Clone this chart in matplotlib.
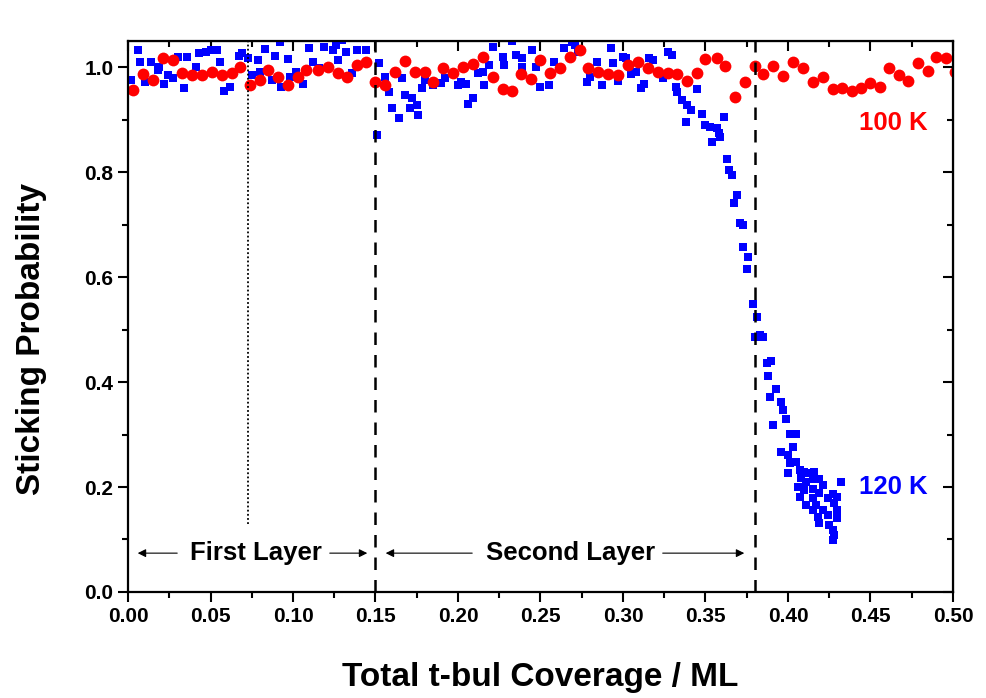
import matplotlib.pyplot as plt
from matplotlib.ticker import MultipleLocator

plt.rcParams['font.family'] = ['Liberation Sans', 'DejaVu Sans']
plt.rcParams['font.weight'] = 'bold'

# 100 K data (red circles)
x100 = [0.003, 0.009, 0.015, 0.021, 0.027, 0.033, 0.039, 0.045, 0.051, 0.057,
        0.063, 0.068, 0.074, 0.080, 0.085, 0.091, 0.097, 0.103, 0.108, 0.115,
        0.121, 0.127, 0.133, 0.139, 0.144, 0.150, 0.156, 0.162, 0.168, 0.174,
        0.180, 0.185, 0.191, 0.197, 0.203, 0.209, 0.215, 0.221, 0.227, 0.233,
        0.238, 0.244, 0.250, 0.256, 0.262, 0.268, 0.274, 0.279, 0.285, 0.291,
        0.297, 0.303, 0.309, 0.315, 0.321, 0.327, 0.333, 0.339, 0.345, 0.350,
        0.357, 0.362, 0.368, 0.374, 0.380, 0.385, 0.391, 0.397, 0.403, 0.409,
        0.415, 0.421, 0.427, 0.433, 0.439, 0.444, 0.450, 0.456, 0.461, 0.467,
        0.473, 0.479, 0.485, 0.490, 0.496, 0.501]
y100 = [0.956, 0.987, 0.975, 1.017, 1.013, 0.989, 0.985, 0.985, 0.990, 0.985,
        0.989, 1.000, 0.966, 0.975, 0.994, 0.981, 0.966, 0.981, 0.994, 0.994,
        1.000, 0.989, 0.981, 1.004, 1.010, 0.971, 0.966, 0.990, 1.011, 0.990,
        0.990, 0.971, 0.998, 0.989, 1.000, 1.006, 1.019, 0.981, 0.958, 0.954,
        0.987, 0.977, 1.013, 0.989, 0.998, 1.019, 1.032, 0.998, 0.990, 0.987,
        0.985, 1.004, 1.010, 0.998, 0.990, 0.989, 0.987, 0.973, 0.989, 1.015,
        1.017, 1.002, 0.943, 0.971, 1.002, 0.987, 1.002, 0.983, 1.010, 0.998,
        0.971, 0.981, 0.958, 0.960, 0.954, 0.960, 0.970, 0.962, 0.998, 0.985,
        0.973, 1.008, 0.992, 1.019, 1.017, 0.990]

# 120 K data (blue squares)
x120 = [0.002, 0.006, 0.007, 0.010, 0.014, 0.018, 0.019, 0.022, 0.024, 0.027,
        0.030, 0.034, 0.036, 0.041, 0.043, 0.047, 0.047, 0.050, 0.054, 0.056,
        0.058, 0.062, 0.067, 0.069, 0.073, 0.075, 0.079, 0.080, 0.083, 0.087,
        0.089, 0.092, 0.093, 0.097, 0.098, 0.102, 0.106, 0.110, 0.112, 0.116,
        0.119, 0.121, 0.124, 0.126, 0.127, 0.130, 0.132, 0.136, 0.139, 0.144,
        0.151, 0.152, 0.156, 0.158, 0.160, 0.164, 0.166, 0.168, 0.171, 0.172,
        0.175, 0.176, 0.178, 0.180, 0.185, 0.190, 0.192, 0.200, 0.202, 0.205,
        0.206, 0.209, 0.212, 0.215, 0.216, 0.219, 0.221, 0.224, 0.227, 0.228,
        0.231, 0.233, 0.235, 0.239, 0.239, 0.242, 0.245, 0.247, 0.250, 0.255,
        0.258, 0.264, 0.269, 0.271, 0.273, 0.278, 0.280, 0.284, 0.287, 0.290,
        0.293, 0.294, 0.297, 0.300, 0.302, 0.305, 0.308, 0.311, 0.313, 0.316,
        0.318, 0.324, 0.327, 0.330, 0.332, 0.333, 0.336, 0.338, 0.339, 0.341,
        0.345, 0.348, 0.350, 0.353, 0.354, 0.357, 0.358, 0.359, 0.361, 0.363,
        0.364, 0.366, 0.367, 0.369, 0.371, 0.373, 0.373, 0.375, 0.376, 0.379,
        0.381, 0.380, 0.383, 0.385, 0.387, 0.388, 0.390, 0.389, 0.393, 0.396,
        0.397, 0.391, 0.399, 0.401, 0.405, 0.403, 0.396, 0.400, 0.405, 0.401,
        0.400, 0.407, 0.410, 0.412, 0.416, 0.408, 0.411, 0.415, 0.419, 0.421,
        0.406, 0.410, 0.415, 0.432, 0.427, 0.419, 0.407, 0.415, 0.424, 0.430,
        0.411, 0.417, 0.428, 0.415, 0.421, 0.430, 0.418, 0.424, 0.430, 0.419,
        0.425, 0.427, 0.428, 0.427]
y120 = [0.975, 1.032, 1.010, 0.971, 1.010, 0.994, 1.000, 0.968, 0.985, 0.979,
        1.019, 0.960, 1.019, 1.000, 1.027, 1.067, 1.029, 1.032, 1.032, 1.010,
        0.954, 0.962, 1.021, 1.027, 1.017, 0.985, 1.013, 0.990, 1.034, 0.975,
        1.021, 1.048, 0.962, 1.015, 0.981, 0.990, 0.968, 1.036, 1.010, 0.998,
        1.038, 1.055, 1.032, 1.042, 1.013, 1.051, 1.029, 0.989, 1.032, 1.032,
        0.870, 1.008, 0.981, 0.952, 0.922, 0.903, 0.979, 0.947, 0.922, 0.941,
        0.928, 0.909, 0.960, 0.975, 0.966, 0.970, 0.979, 0.966, 0.971, 0.968,
        0.930, 0.941, 0.989, 0.990, 0.966, 1.004, 1.038, 1.057, 1.019, 1.004,
        1.055, 1.049, 1.023, 1.000, 1.017, 1.057, 1.032, 1.000, 0.962, 0.966,
        1.010, 1.036, 1.048, 1.042, 1.029, 0.971, 0.981, 1.010, 0.966, 1.057,
        1.036, 1.008, 0.973, 1.019, 1.017, 0.987, 0.990, 0.960, 0.968, 1.017,
        1.013, 0.979, 1.029, 1.023, 0.962, 0.952, 0.937, 0.895, 0.928, 0.918,
        0.958, 0.910, 0.890, 0.886, 0.857, 0.884, 0.874, 0.867, 0.905, 0.825,
        0.804, 0.794, 0.741, 0.756, 0.703, 0.699, 0.657, 0.615, 0.638, 0.549,
        0.524, 0.486, 0.490, 0.486, 0.436, 0.411, 0.440, 0.371, 0.387, 0.362,
        0.347, 0.318, 0.330, 0.301, 0.301, 0.276, 0.267, 0.261, 0.248, 0.246,
        0.227, 0.232, 0.229, 0.227, 0.229, 0.217, 0.210, 0.215, 0.215, 0.204,
        0.200, 0.194, 0.196, 0.210, 0.187, 0.189, 0.181, 0.179, 0.179, 0.181,
        0.166, 0.166, 0.170, 0.156, 0.156, 0.156, 0.143, 0.147, 0.141, 0.131,
        0.128, 0.118, 0.109, 0.099]

fig = plt.figure(figsize=(9.87, 6.98), dpi=100)
ax = fig.add_axes([0.1297, 0.1519, 0.8358, 0.7894])

ax.plot(x120, y120, 's', color='#0000ff', markersize=5.5, markeredgewidth=0)
ax.plot(x100, y100, 'o', color='#ff0000', markersize=8.5, markeredgewidth=0)

ax.axvline(0.15, color='black', lw=1.8, ls=(0, (5, 4)))
ax.axvline(0.38, color='black', lw=1.8, ls=(0, (5, 4)))
ax.plot([0.0727, 0.0727], [0.13, 1.05], color='black', lw=1.3, ls=(0, (1, 1.3)))

ax.set_xlim(0, 0.5)
ax.set_ylim(0, 1.05)

# layer annotations
ay = 0.074
arr = dict(arrowstyle='-|>', color='black', lw=0.8, mutation_scale=12)
ax.text(0.0776, ay, 'First Layer', ha='center', va='center', fontsize=18.5, fontweight='bold')
ax.annotate('', xy=(0.0042, ay), xytext=(0.0315, ay), arrowprops=arr)
ax.annotate('', xy=(0.1467, ay), xytext=(0.1206, ay), arrowprops=arr)
ax.text(0.2685, ay, 'Second Layer', ha='center', va='center', fontsize=18.5, fontweight='bold')
ax.annotate('', xy=(0.1545, ay), xytext=(0.2103, ay), arrowprops=arr)
ax.annotate('', xy=(0.3752, ay), xytext=(0.3224, ay), arrowprops=arr)

ax.text(0.4636, 0.894, '100 K', color='#ff0000', ha='center', va='center', fontsize=18.5, fontweight='bold')
ax.text(0.4636, 0.2, '120 K', color='#0000ff', ha='center', va='center', fontsize=18.5, fontweight='bold')

ax.set_xlabel('Total t-bul Coverage / ML', fontsize=24, fontweight='bold', labelpad=26)
ax.set_ylabel('Sticking Probability', fontsize=24, fontweight='bold', labelpad=27)
ax.yaxis.label.set_y(0.46)

ax.xaxis.set_major_locator(MultipleLocator(0.05))
ax.xaxis.set_minor_locator(MultipleLocator(0.025))
ax.yaxis.set_major_locator(MultipleLocator(0.2))
ax.yaxis.set_minor_locator(MultipleLocator(0.1))
ax.xaxis.set_major_formatter(lambda v, p: f'{v:.2f}')
ax.yaxis.set_major_formatter(lambda v, p: f'{v:.1f}')
ax.tick_params(which='both', direction='out', width=1.5, labelsize=15)
ax.tick_params(which='major', length=7)
ax.tick_params(which='minor', length=4)
for lab in ax.get_xticklabels() + ax.get_yticklabels():
    lab.set_fontweight('bold')
for s in ax.spines.values():
    s.set_linewidth(1.6)

top = ax.secondary_xaxis('top')
top.xaxis.set_major_locator(MultipleLocator(0.05))
top.xaxis.set_minor_locator(MultipleLocator(0.025))
top.tick_params(which='both', direction='in', width=1.5, labeltop=False)
top.tick_params(which='major', length=7)
top.tick_params(which='minor', length=4)
right = ax.secondary_yaxis('right')
right.yaxis.set_major_locator(MultipleLocator(0.2))
right.yaxis.set_minor_locator(MultipleLocator(0.1))
right.tick_params(which='both', direction='in', width=1.5, labelright=False)
right.tick_params(which='major', length=7)
right.tick_params(which='minor', length=4)

fig.savefig('out.png', dpi=100)
